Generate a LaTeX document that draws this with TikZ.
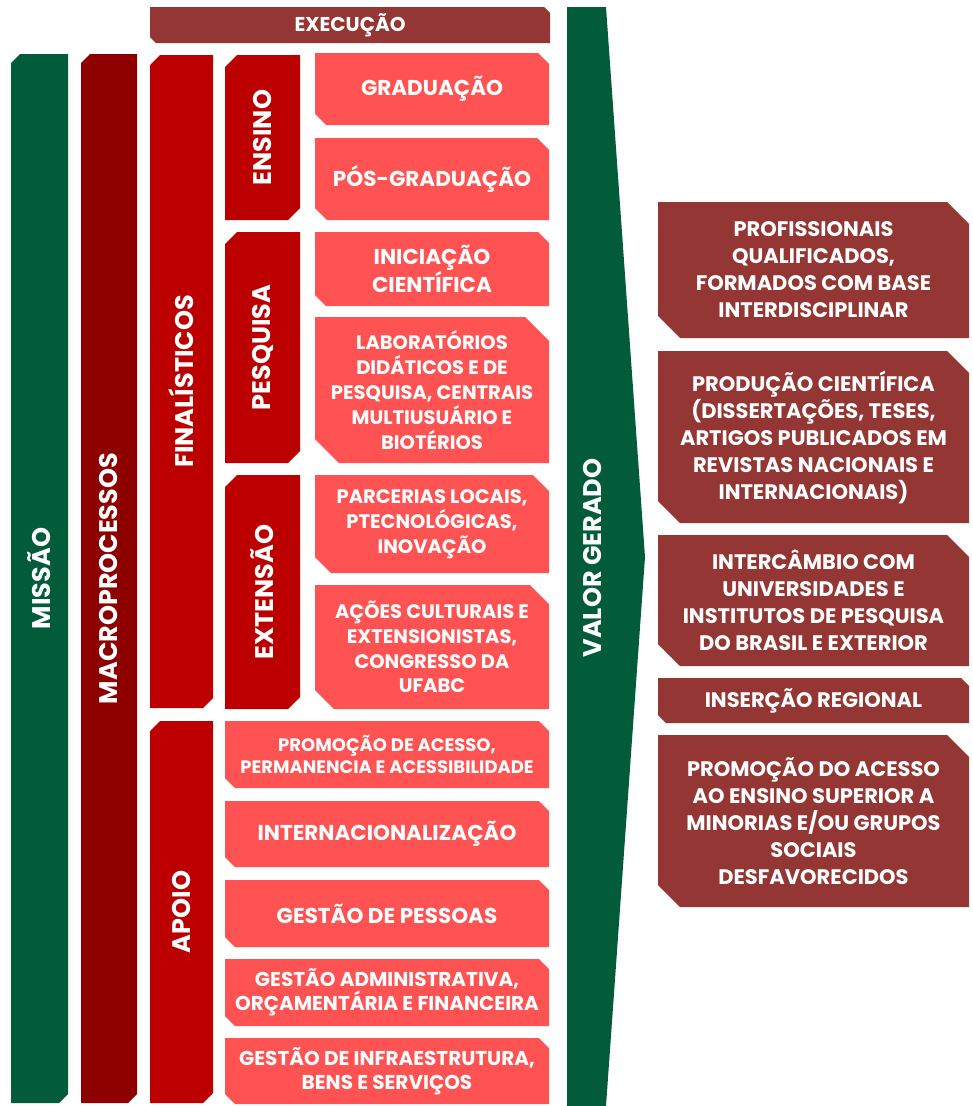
\documentclass[tikz,border=0pt]{standalone}
\usepackage{fontspec}
\setmainfont{Poppins}
\definecolor{cgreen}{RGB}{2,92,58}
\definecolor{cmacro}{RGB}{142,0,0}
\definecolor{cred}{RGB}{188,0,0}
\definecolor{cpink}{RGB}{255,82,82}
\definecolor{cbrick}{RGB}{148,54,52}
\tikzset{
  txt/.style={inner sep=0pt, align=center, text=white},
  big/.style={font={\fontsize{21.5}{25.5}\selectfont\bfseries}},
  res/.style={font={\fontsize{21}{27}\selectfont\bfseries}},
  mid/.style={font={\fontsize{19.5}{24.8}\selectfont\bfseries}},
  small/.style={font={\fontsize{18}{22}\selectfont\bfseries}},
  smallb/.style={font={\fontsize{20}{24}\selectfont\bfseries}},
  rot/.style={rotate=90, font={\fontsize{25.5}{28}\selectfont\bfseries}}
}
% horizontal box: snipped top-right and bottom-left
\newcommand\snipH[9]{%
  \fill[#7] (#2,#3) -- ({#4-#6},#3) -- (#4,{#3+#6}) -- (#4,#5) -- ({#2+#6},#5) -- (#2,{#5-#6}) -- cycle;
  \node[txt,#8] (#1) at ({(#2+#4)/2},{(#3+#5)/2}) {#9};}
% vertical bar: snipped top-left and bottom-right
\newcommand\snipV[9]{%
  \fill[#7] (#2,{#3+#6}) -- ({#2+#6},#3) -- (#4,#3) -- (#4,{#5-#6}) -- ({#4-#6},#5) -- (#2,#5) -- cycle;
  \node[txt,#8] (#1) at ({(#2+#4)/2},{(#3+#5)/2}) {#9};}
\begin{document}
\begin{tikzpicture}[x=1pt,y=-1pt]
\useasboundingbox (0,0) rectangle (973,1106);
% top header
\snipH{exec}{150}{7}{550}{43}{6}{cbrick}{font={\fontsize{20}{24}\selectfont\bfseries}}{EXECUÇÃO}
% vertical bars
\snipV{missao}{11}{54}{68}{1103}{9}{cgreen}{rot}{MISSÃO}
\snipV{macro}{81}{54}{137}{1103}{9}{cmacro}{rot}{MACROPROCESSOS}
\snipV{final}{150}{55}{213}{708}{10}{cred}{rot}{FINALÍSTICOS}
\snipV{apoio}{150}{721}{213}{1103}{10}{cred}{rot}{APOIO}
\snipV{ensino}{225}{55}{300}{220}{12}{cred}{rot}{ENSINO}
\snipV{pesquisa}{225}{232}{300}{463}{12}{cred}{rot}{PESQUISA}
\snipV{extensao}{225}{475}{300}{709}{12}{cred}{rot}{EXTENSÃO}
% finalistic items
\snipH{grad}{315}{53}{549}{125}{11}{cpink}{big}{GRADUAÇÃO}
\snipH{pos}{315}{138}{549}{220}{12}{cpink}{big}{PÓS-GRADUAÇÃO}
\snipH{inic}{315}{232}{549}{306}{11}{cpink}{big}{INICIAÇÃO\\CIENTÍFICA}
\snipH{lab}{315}{317}{549}{463}{24}{cpink}{mid}{LABORATÓRIOS\\DIDÁTICOS E DE\\PESQUISA, CENTRAIS\\MULTIUSUÁRIO E\\BIOTÉRIOS}
\snipH{parc}{315}{475}{549}{573}{16}{cpink}{mid}{PARCERIAS LOCAIS,\\PTECNOLÓGICAS,\\INOVAÇÃO}
\snipH{acoes}{315}{585}{549}{709}{19}{cpink}{mid}{AÇÕES CULTURAIS E\\EXTENSIONISTAS,\\CONGRESSO DA\\UFABC}
% support items
\snipH{prom}{225}{721}{549}{788}{10}{cpink}{small}{PROMOÇÃO DE ACESSO,\\PERMANENCIA E ACESSIBILIDADE}
\snipH{intl}{225}{801}{549}{867}{10}{cpink}{big}{INTERNACIONALIZAÇÃO}
\snipH{gp}{225}{880}{549}{947}{10}{cpink}{big}{GESTÃO DE PESSOAS}
\snipH{ga}{225}{959}{549}{1026}{10}{cpink}{smallb}{GESTÃO ADMINISTRATIVA,\\ORÇAMENTÁRIA E FINANCEIRA}
\snipH{gi}{225}{1038}{549}{1104}{10}{cpink}{smallb}{GESTÃO DE INFRAESTRUTURA,\\BENS E SERVIÇOS}
% value arrow
\fill[cgreen] (567,7) -- (606,7) -- (645,557) -- (606,1106) -- (567,1106) -- cycle;
\node[txt,rot] (valor) at (593,558) {VALOR GERADO};
% results
\snipH{prof}{658}{202}{969}{338}{22}{cbrick}{res}{PROFISSIONAIS\\QUALIFICADOS,\\FORMADOS COM BASE\\INTERDISCIPLINAR}
\snipH{prod}{658}{351}{969}{523}{22}{cbrick}{res}{PRODUÇÃO CIENTÍFICA\\(DISSERTAÇÕES, TESES,\\ARTIGOS PUBLICADOS EM\\REVISTAS NACIONAIS E\\INTERNACIONAIS)}
\snipH{inter}{658}{535}{969}{666}{22}{cbrick}{res}{INTERCÂMBIO COM\\UNIVERSIDADES E\\INSTITUTOS DE PESQUISA\\DO BRASIL E EXTERIOR}
\snipH{ins}{658}{678}{969}{723}{8}{cbrick}{res}{INSERÇÃO REGIONAL}
\snipH{promo}{658}{735}{969}{907}{22}{cbrick}{res}{PROMOÇÃO DO ACESSO\\AO ENSINO SUPERIOR A\\MINORIAS E/OU GRUPOS\\SOCIAIS\\DESFAVORECIDOS}
\end{tikzpicture}
\end{document}
